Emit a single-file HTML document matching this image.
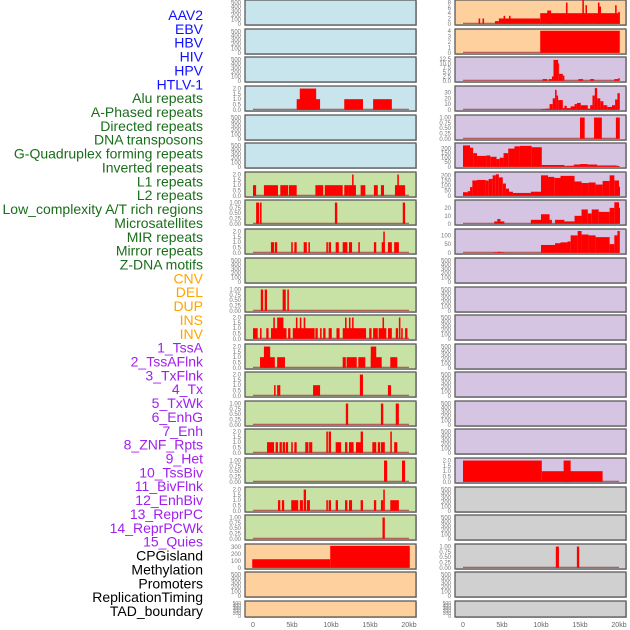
<!DOCTYPE html>
<html><head><meta charset="utf-8"><style>
html,body{margin:0;padding:0;background:#fff;}
svg{display:block;font-family:"Liberation Sans",sans-serif;}
</style></head><body>
<svg id="chart" width="630" height="630" viewBox="0 0 630 630"></svg>
<script>
// ---------- data ----------
const trackLabels = ["AAV2","EBV","HBV","HIV","HPV","HTLV-1","Alu repeats","A-Phased repeats","Directed repeats","DNA transposons","G-Quadruplex forming repeats","Inverted repeats","L1 repeats","L2 repeats","Low_complexity A/T rich regions","Microsatellites","MIR repeats","Mirror repeats","Z-DNA motifs","CNV","DEL","DUP","INS","INV","1_TssA","2_TssAFlnk","3_TxFlnk","4_Tx","5_TxWk","6_EnhG","7_Enh","8_ZNF_Rpts","9_Het","10_TssBiv","11_BivFlnk","12_EnhBiv","13_ReprPC","14_ReprPCWk","15_Quies","CPGisland","Methylation","Promoters","ReplicationTiming","TAD_boundary"];
const labelGroups = [6,13,5,15,5];
const xTicks = [0,5,10,15,20];
const xTickLabels = ["0","5kb","10kb","15kb","20kb"];
const ticksEmpty = [0,100,200,300,400,500];
const ticks2 = [0,0.5,1,1.5,2];
const ticks1 = [0,0.25,0.5,0.75,1];

// left column segments [startKb, endKb, value]
const L4 = [[5.6,8.6,1],[6.0,8.1,2],[11.7,14.1,1],[15.4,17.8,1]];
const L7 = [[0,0.4,1],[1.4,3.2,1],[3.5,4.5,1],[4.6,5.6,1],[8.0,9.0,1],[9.2,11.5,1],[11.7,12.3,1],[12.3,13.2,1],[12.7,12.9,2],[13.8,14.4,1],[15.5,16.0,1],[16.4,16.8,1],[18.2,19.5,1],[18.5,18.7,2]];
const L8 = [[0.4,0.8,1],[0.9,1.1,1],[10.5,10.8,1],[19.2,19.5,1]];
const L9 = [[2.3,2.7,1],[2.8,3.1,1],[4.9,5.1,1],[5.3,5.6,1],[6.5,6.9,1],[7.1,7.3,1],[9.4,9.6,1],[9.7,10.0,1],[10.6,11.0,1],[11.5,12.1,1],[12.3,12.7,1],[13.5,13.7,1],[15.5,15.8,1],[16.5,16.9,1],[16.7,16.9,2],[17.3,17.8,1],[18.1,18.7,1]];
const L11 = [[1.0,1.3,1],[1.5,1.8,1],[3.8,4.2,1],[4.4,4.6,1]];
const L12 = [[0,0.6,1],[0.9,1.1,1],[1.7,2.0,1],[2.3,4.3,1],[2.6,2.8,2],[3.1,3.9,2],[4.5,4.8,1],[5.1,7.9,1],[5.5,5.7,2],[6.0,6.2,2],[6.5,6.7,2],[8.0,8.3,1],[8.6,8.8,1],[9.0,9.3,1],[9.7,10.1,1],[10.7,11.1,1],[11.5,14.5,1],[11.8,12.0,2],[12.3,12.5,2],[12.7,12.9,2],[14.9,15.2,1],[15.4,16.0,1],[16.1,17.1,1],[16.6,16.8,2],[17.3,17.8,1],[18.3,18.6,1],[18.7,18.9,2],[19.0,19.2,1],[19.5,19.8,1]];
const L13 = [[0.9,2.8,1],[1.4,2.2,2],[3.1,4.1,1],[11.5,11.9,1],[12.0,13.3,1],[13.5,14.4,1],[15.1,16.5,1],[15.1,15.8,2],[17.6,18.5,1]];
const L14 = [[2.7,2.9,1],[3.1,3.5,1],[7.7,8.6,1],[13.7,14.1,2],[17.3,17.7,1]];
const L15 = [[11.9,12.2,1],[16.4,16.7,1],[18.3,18.7,1]];
const L16 = [[1.8,2.7,1],[2.9,3.2,1],[3.4,3.7,1],[3.8,4.1,1],[4.2,4.5,1],[4.9,5.1,1],[5.3,5.6,1],[6.7,7.1,1],[7.2,7.6,1],[9.4,9.6,2],[9.7,10.0,2],[10.6,11.3,1],[11.8,12.1,1],[12.3,12.9,1],[13.2,14.0,1],[13.8,14.1,2],[15.3,15.8,1],[16.0,16.3,1],[16.4,16.9,1],[17.6,17.8,2],[18.1,18.5,1]];
const L17 = [[16.8,17.2,1],[19.1,19.5,1]];
const L18 = [[3.2,3.5,1],[3.7,4.0,1],[4.9,5.8,1],[6.0,6.4,1],[6.5,6.8,2],[6.9,7.3,1],[9.4,9.6,1],[9.7,10.0,1],[10.6,10.9,1],[11.8,12.1,1],[12.3,12.7,1],[13.8,14.1,1],[15.5,15.8,1],[16.4,16.7,1],[16.7,16.9,2],[17.6,18.7,1]];
const L19 = [[16.6,16.9,1]];
const L20 = [[-0.1,9.9,125],[9.9,20.1,320]];

// right column segments
const R1 = [[2.0,2.2,2],[2.5,2.7,2],[4.1,4.6,1],[4.6,9.9,2],[5.2,5.4,3],[5.9,6.1,3],[9.9,20.1,4],[10.8,11.3,5],[13.2,13.4,8],[15.3,15.5,9],[15.7,15.9,7],[17.3,17.5,8],[17.5,17.7,6.5],[19.5,19.7,7],[19.9,20.1,4.5]];
const R2 = [[9.9,20.1,4]];
const R3 = [[10.2,10.8,1],[11.0,11.4,1],[11.4,11.6,2.5],[11.6,12.2,12],[12.2,12.3,10],[12.3,12.8,4],[12.8,13.0,3],[14.8,15.4,1],[16.3,16.8,1],[19.4,19.9,1],[19.9,20.1,1.5]];
const R4 = [[10.0,10.6,1],[10.6,11.1,2],[11.1,11.5,10],[11.5,11.8,20],[11.8,12.0,35],[12.0,12.2,25],[12.2,12.8,17],[12.8,13.0,3],[13.0,13.3,7],[13.3,13.8,3],[13.8,14.3,6],[14.3,14.6,10],[14.6,15.1,12],[15.1,16.0,8],[16.0,16.3,2],[16.3,16.6,8],[16.6,16.9,25],[16.9,17.2,38],[17.2,17.6,20],[17.6,18.0,15],[18.0,18.5,8],[18.5,19.1,5],[19.1,19.5,8],[19.5,19.8,18],[19.8,20.1,29]];
const R5 = [[15.0,15.6,1],[16.8,17.8,1],[19.6,20.1,1]];
const R6 = [[0,0.9,235],[0.9,1.3,210],[1.3,1.8,150],[1.8,3.0,120],[3.0,3.5,125],[3.5,4.3,110],[4.3,4.7,85],[4.7,5.2,100],[5.2,5.8,150],[5.8,6.6,200],[6.6,7.3,225],[7.3,8.8,230],[8.8,10.1,215],[10.1,13.0,20],[13.0,13.3,5],[13.3,14.2,10],[14.2,15.0,25],[15.0,16.0,30],[16.0,17.2,25],[17.2,19.7,15],[19.7,20.1,8]];
const R7 = [[0,0.6,35],[0.6,0.9,45],[0.9,1.2,85],[1.2,1.8,150],[1.8,2.9,155],[2.9,3.3,150],[3.3,3.8,165],[3.8,4.2,200],[4.2,4.6,210],[4.6,5.1,180],[5.1,5.5,120],[5.5,5.9,70],[5.9,6.4,40],[6.4,8.7,28],[8.7,10.0,40],[10.0,10.9,200],[10.9,11.7,185],[11.7,12.5,175],[12.5,14.3,195],[14.3,15.2,140],[15.2,16.1,125],[16.1,17.0,130],[17.0,17.9,110],[17.9,18.8,145],[18.8,19.4,200],[19.4,20.0,150],[20.0,20.1,90]];
const R8 = [[4.0,4.4,3],[4.4,4.8,6],[4.8,5.3,3],[8.7,10.0,5],[10.0,11.1,12],[11.1,11.4,5],[11.8,13.0,5],[13.0,14.3,3],[14.3,15.2,10],[15.2,16.0,18],[16.0,16.5,13],[16.5,17.4,18],[17.4,18.8,15],[18.8,19.4,20],[19.4,20.0,27],[20.0,20.1,20]];
const R9 = [[4.0,4.5,3],[4.5,4.8,6],[4.8,5.3,3],[10.0,11.8,45],[11.8,12.5,55],[12.5,13.4,60],[13.4,13.8,65],[13.8,14.7,100],[14.7,15.2,125],[15.2,16.1,105],[16.1,17.0,100],[17.0,18.8,90],[18.8,19.4,50],[19.4,19.8,100],[19.8,20.1,125]];
const R17 = [[0,10.1,2],[10.1,17.9,1],[12.9,13.8,2]];
const R20 = [[11.9,12.3,1],[14.6,14.9,1]];

// ---------- layout ----------
const rowTops = [0,29,57,86,115,143,172,200,229,258,287,315,344,372,401,429,458,487,515,544,572,601];
const rowHeights = rowTops.map((t,i)=> i===21 ? 16 : 25);
const cols = [{x0:245,x1:416,px0:253,px1:409,tickX:241},{x0:455,x1:626,px0:463,px1:619,tickX:451}];
const BG_BLUE="#c8e4ec", BG_GREEN="#c8e2a5", BG_PEACH="#fed09e", BG_PURPLE="#d6c5e2", BG_GREY="#d0d0d0";

function leftBg(r){ return r<6?BG_BLUE:(r<19?BG_GREEN:BG_PEACH); }
function rightBg(r){ return r<2?BG_PEACH:(r<17?BG_PURPLE:BG_GREY); }

const leftData = {3:[L4,ticks2,2.1],6:[L7,ticks2,2.1],7:[L8,ticks1,1.05],8:[L9,ticks2,2.1],10:[L11,ticks1,1.05],11:[L12,ticks2,2.1],12:[L13,ticks2,2.1],13:[L14,ticks2,2.1],14:[L15,ticks1,1.05],15:[L16,ticks2,2.1],16:[L17,ticks1,1.05],17:[L18,ticks2,2.1],18:[L19,ticks1,1.05],19:[L20,[0,100,200,300],325]};
const rightData = {0:[R1,[0,2,4,6,8],8.4],1:[R2,[0,1,2,3,4],4.05],2:[R3,[0,2.5,5,7.5,10,12.5],12.8],3:[R4,[0,10,20,30],39],4:[R5,ticks1,1.05],5:[R6,[0,50,100,150,200],245],6:[R7,[0,50,100,150,200],218],7:[R8,[0,10,20],28],8:[R9,[0,50,100],128],16:[R17,ticks2,2.1],19:[R20,ticks1,1.05]};

const NS="http://www.w3.org/2000/svg";
const svg=document.getElementById('chart');
function mk(tag,attrs,parent){const e=document.createElementNS(NS,tag);for(const k in attrs)e.setAttribute(k,attrs[k]);(parent||svg).appendChild(e);return e;}
function fmt(v,ticks){ if(ticks===ticks1) return v.toFixed(2); if(ticks===ticks2) return v.toFixed(1); if(ticks[1]===2.5) return v.toFixed(1); return String(v); }

// labels
const groupColors=["#1010ff","#1a6e1a","#ffa500","#a020f0","#000000"];
let li=0;
labelGroups.forEach((n,g)=>{for(let k=0;k<n;k++){const t=mk('text',{x:203,y:15+li*13.86,'text-anchor':'end','dominant-baseline':'central','font-size':14,fill:groupColors[g]});


t.textContent=trackLabels[li];li++;}});

function drawPanel(r,c,bg,data){
  const col=cols[c], top=rowTops[r], h=rowHeights[r];
  const g=mk('g',{});
  
  
  mk('rect',{x:col.x0+1,y:top+1,width:col.x1-col.x0,height:h,fill:'#c8c8c8'},g);
  mk('rect',{x:col.x0,y:top,width:col.x1-col.x0,height:h,fill:bg,stroke:'#5a5a5a','stroke-width':1.3},g);
  const yTop=top+1.5, yBot=top+h-1.2;
  let segs=null,ticks=ticksEmpty,ymax=520;
  if(data){segs=data[0];ticks=data[1];ymax=data[2];}
  const xs=kb=>col.px0+(kb/20)*(col.px1-col.px0);
  const ys=v=>yBot-(v/ymax)*(yBot-yTop);
  ticks.forEach(v=>{const t=mk('text',{x:col.tickX,y:ys(v)+2,'text-anchor':'end','font-size':h<20?5:6,fill:'#777'},g);
    
    
    t.textContent=fmt(v,ticks);});
  if(segs){
    mk('line',{x1:xs(0),x2:xs(20),y1:yBot-0.5,y2:yBot-0.5,stroke:'#b05050','stroke-width':1.2},g);
    segs.forEach(s=>{const x1=Math.max(col.x0+0.7,xs(s[0])),x2=Math.min(col.x1-0.7,xs(s[1]));
      const rc=mk('rect',{x:x1,y:ys(s[2]),width:Math.max(1,x2-x1),height:yBot-ys(s[2]),fill:'#ff0000'},g);
      
      });
  }
}
for(let r=0;r<22;r++){drawPanel(r,0,leftBg(r),leftData[r]);drawPanel(r,1,rightBg(r),rightData[r]);}

// x axes
cols.forEach(col=>{xTicks.forEach((v,i)=>{const x=col.px0+(v/20)*(col.px1-col.px0);
  const t=mk('text',{x:x,y:627,'text-anchor':'middle','font-size':7,fill:'#666'});
  
  
  t.textContent=xTickLabels[i];});});
</script>
</body></html>
